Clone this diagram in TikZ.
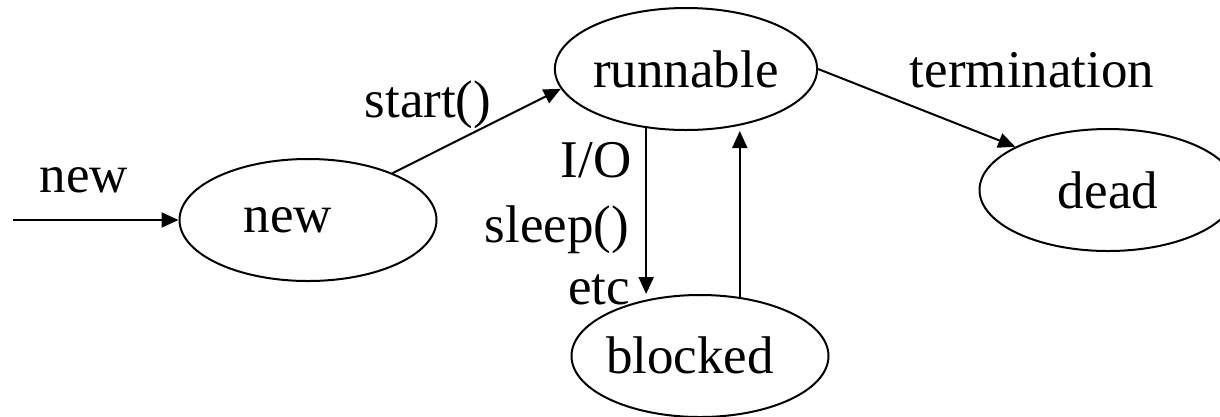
\documentclass[tikz,border=0pt]{standalone}
\usepackage{fontspec}
\setmainfont{Liberation Serif}
\usetikzlibrary{shapes.geometric,arrows.meta}
\begin{document}
\begin{tikzpicture}[x=1pt,y=-1pt,
  state/.style={draw,ellipse,line width=2pt,minimum width=257pt,minimum height=122pt,inner sep=0pt,font=\fontsize{53}{64}\selectfont},
  lbl/.style={inner sep=0pt,anchor=base,font=\fontsize{53}{64}\selectfont},
  arr/.style={line width=2pt,-{Triangle[length=17pt,width=15pt]}}]
\clip (0,0) rectangle (1220,416);
\node[state] (new) at (308,220) {};
\node[lbl] (newtext) at (288,232) {new};
\node[state] (runnable) at (686,69) {runnable};
\node[state] (dead) at (1108,190) {dead};
\node[state,minimum height=122pt] (blocked) at (700,356) {};
\node[lbl] (blockedtext) at (690,373) {blocked};
\coordinate (src) at (13,220);
\node[lbl] (lnew) at (84,192) {new};
\node[lbl] (lstart) at (428,117) {start()};
\node[lbl] (lio) at (596,177) {I/O};
\node[lbl] (lsleep) at (557,242) {sleep()};
\node[lbl] (letc) at (599,304) {etc};
\node[lbl] (lterm) at (1032,87) {termination};
\draw[arr] (src) -- (new.west);
\draw[arr] (new.29) -- (runnable.189);
\draw[arr] (runnable.east) -- (dead.155);
\draw[arr] (runnable.236) -- (runnable.236 |- blocked.north);
\draw[arr] (blocked.56) -- (blocked.56 |- runnable.south);
\end{tikzpicture}
\end{document}
